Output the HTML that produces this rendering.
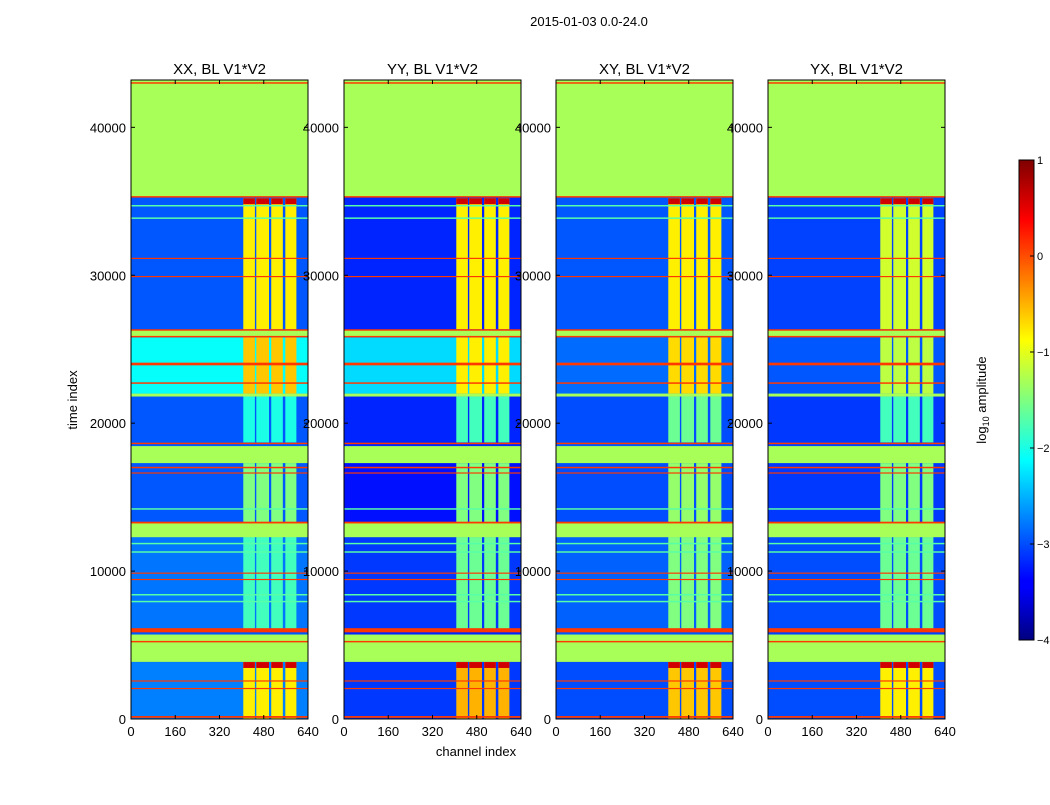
<!DOCTYPE html>
<html><head><meta charset="utf-8"><style>
body{margin:0;background:#fff;font-family:"Liberation Sans",sans-serif}
svg text{font-family:"Liberation Sans",sans-serif}
</style></head><body>
<svg id="chart" width="1050" height="800" xmlns="http://www.w3.org/2000/svg">
<text x="589" y="26" font-size="13" text-anchor="middle">2015-01-03 0.0-24.0</text>
<text x="476" y="756" font-size="13" text-anchor="middle">channel index</text>
<text x="77" y="400" font-size="13" text-anchor="middle" transform="rotate(-90 77 400)">time index</text>
<g id="panels"></g>
<defs><linearGradient id="jet" x1="0" y1="1" x2="0" y2="0">
<stop offset="0" stop-color="#00007f"/><stop offset="0.11" stop-color="#0000ff"/><stop offset="0.125" stop-color="#0000ff"/><stop offset="0.375" stop-color="#00ffff"/><stop offset="0.5" stop-color="#7fff7f"/><stop offset="0.625" stop-color="#ffff00"/><stop offset="0.875" stop-color="#ff0000"/><stop offset="1" stop-color="#7f0000"/></linearGradient></defs>
<rect x="1019" y="160" width="15" height="480" fill="url(#jet)" stroke="#000" stroke-width="1"/>
<g id="cbticks"></g>
<text x="986" y="400" font-size="13" text-anchor="middle" transform="rotate(-90 986 400)">log<tspan font-size="9" dy="3">10</tspan><tspan dy="-3"> amplitude</tspan></text>
</svg>
<script>
const panelTitles = ["XX, BL V1*V2","YY, BL V1*V2","XY, BL V1*V2","YX, BL V1*V2"];
const regions = [[26350,35200],[22000,25800],[18700,21800],[13300,17300],[5900,12300],[0,3850]];
const bgLevels = [
  [-2.95,-2.1,-2.95,-2.95,-2.8,-2.75],
  [-3.2,-2.3,-3.2,-3.3,-3.1,-3.1],
  [-2.95,-2.85,-3.0,-3.0,-2.9,-3.0],
  [-3.05,-2.95,-3.1,-3.1,-3.0,-3.0]];
const colLevels = [
  [-0.8,-0.6,-2.0,-1.5,-1.8,-0.8],
  [-0.8,-0.8,-1.8,-1.5,-1.6,-0.5],
  [-0.8,-0.7,-1.6,-1.4,-1.5,-0.6],
  [-1.1,-1.2,-1.8,-1.5,-1.6,-0.8]];
const columnStarts = [406,453,507,558];
const columnEnds = [448,499,549,598];
const capTimes = [34800,3450];
const capLevel = 0.6;
const flagBands = [[35290,43200],[25850,26300],[21800,22000],[17300,18450],[12290,13300],[3860,5710]];
const flagLevel = -1.3;
const lineTimes = [43000,35300,31140,29910,26300,25850,24000,22710,18630,17000,16630,13280,9860,9430,6000,5230,2570,2060,140];
const lineWidths = [100,100,80,80,100,100,180,100,100,100,80,120,80,80,280,100,80,80,120];
const lineLevel = 0.1;
const lightTimes = [34700,33860,14200,11860,11290,8400,7940];
const lightLevel = -1.7;
const xTicks = [0,160,320,480,640];
const yTicks = [0,10000,20000,30000,40000];
const cbTicks = [1,0,-1,-2,-3,-4];
const panelLeft = [131,344,556,768];
const NS="http://www.w3.org/2000/svg";
const PW=177, PT=80, PB=719, TMAX=43200, CMAX=640, VMIN=-4, VMAX=1;
function jet(v){let x=Math.max(0,Math.min(1,(v-VMIN)/(VMAX-VMIN)));
 const c=t=>Math.round(255*Math.max(0,Math.min(1,t)));
 return `rgb(${c(Math.min(4*x-1.5,-4*x+4.5))},${c(Math.min(4*x-0.5,-4*x+3.5))},${c(Math.min(4*x+0.5,-4*x+2.5))})`;}
const yS=t=>PB-(t/TMAX)*(PB-PT);
function mk(tag,attrs,parent){const e=document.createElementNS(NS,tag);for(const k in attrs)e.setAttribute(k,attrs[k]);parent.appendChild(e);return e;}
const root=document.getElementById('panels');
panelTitles.forEach((title,p)=>{
 const L=panelLeft[p];const xS=c=>L+(c/CMAX)*PW;
 const g=mk('g',{},root);
 
 
 const fullRect=(t0,t1,v,name)=>{const r=mk('rect',{x:L,y:yS(t1),width:PW,height:Math.max(1,yS(t0)-yS(t1)),fill:jet(v)},g);
  
  };
 mk('rect',{x:L,y:PT,width:PW,height:PB-PT,fill:jet(bgLevels[p][0])},g);
 regions.forEach((rg,i)=>{fullRect(rg[0],rg[1],bgLevels[p][i],'background-region');
  columnStarts.forEach((cs,j)=>{const r=mk('rect',{x:xS(cs),y:yS(rg[1]),width:xS(columnEnds[j])-xS(cs),height:yS(rg[0])-yS(rg[1]),fill:jet(colLevels[p][i])},g);
   
   });});
 capTimes.forEach(ct=>columnStarts.forEach((cs,j)=>{const r=mk('rect',{x:xS(cs),y:yS(ct+400),width:xS(columnEnds[j])-xS(cs),height:yS(ct)-yS(ct+400),fill:jet(capLevel)},g);
  
  }));
 flagBands.forEach(b=>fullRect(b[0],b[1],flagLevel,'flagged-band'));
 lightTimes.forEach(t=>fullRect(t-50,t+50,lightLevel,'light-line'));
 lineTimes.forEach((t,i)=>fullRect(t-lineWidths[i]/2,t+lineWidths[i]/2,lineLevel,'rfi-line'));
 const fr=mk('rect',{x:L,y:PT,width:PW,height:PB-PT,fill:'none',stroke:'#000','stroke-width':1},g);
 
 
 const t=mk('text',{x:L+PW/2,y:74,'font-size':15,'text-anchor':'middle'},g);t.textContent=title;
 
 
 xTicks.forEach(v=>{const x=xS(v);mk('line',{x1:x,x2:x,y1:PB,y2:PB-4,stroke:'#000'},g);mk('line',{x1:x,x2:x,y1:PT,y2:PT+4,stroke:'#000'},g);
  const tx=mk('text',{x:x,y:736,'font-size':13,'text-anchor':'middle'},g);tx.textContent=v;
  
  });
 yTicks.forEach(v=>{const y=yS(v);mk('line',{x1:L,x2:L+4,y1:y,y2:y,stroke:'#000'},g);mk('line',{x1:L+PW,x2:L+PW-4,y1:y,y2:y,stroke:'#000'},g);
  const ty=mk('text',{x:L-5,y:y+5,'font-size':13,'text-anchor':'end'},g);ty.textContent=v;
  
  });
});
const cb=document.getElementById('cbticks');
cbTicks.forEach(v=>{const y=640-(v-VMIN)/(VMAX-VMIN)*480;
 mk('line',{x1:1030,x2:1034,y1:y,y2:y,stroke:'#000'},cb);
 const t=mk('text',{x:1037,y:y+4,'font-size':11},cb);t.textContent=v<0?'\u2212'+(-v):v;
 
 });
</script>
</body></html>
